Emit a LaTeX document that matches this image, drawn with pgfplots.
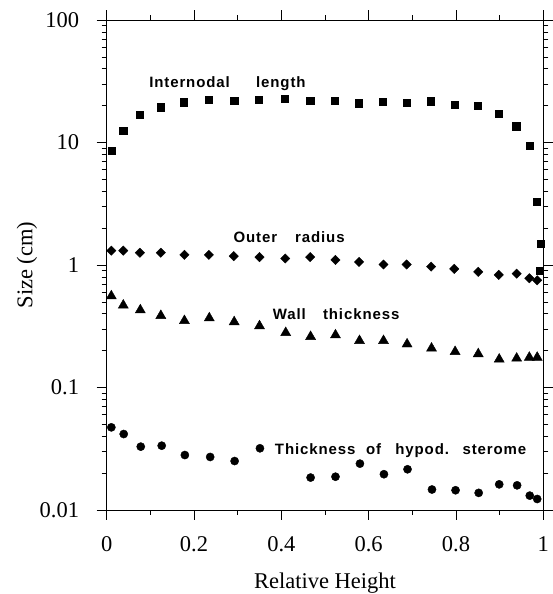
\documentclass[border=0pt]{standalone}
\usepackage{pgfplots}
\pgfplotsset{compat=1.18}
\usepackage{fontspec}
\setmainfont{Liberation Serif}
\newfontfamily\lab[LetterSpace=6]{Liberation Sans}
\begin{document}
\begin{tikzpicture}
\begin{axis}[
  scale only axis, width=436.6pt, height=490pt,
  xmin=0, xmax=1, ymode=log, ymin=0.01, ymax=100,
  axis line style={line width=0.8pt},
  tick align=outside, tick pos=both,
  major tick length=10pt, minor tick length=5pt,
  every tick/.style={line width=0.6pt, black},
  xtick={0,0.2,0.4,0.6,0.8,1}, xticklabels={0,0.2,0.4,0.6,0.8,1},
  minor xtick={0.1,0.3,0.5,0.7,0.9},
  ytick={0.01,0.1,1,10,100}, yticklabels={0.01,0.1,1,10,100},
  minor ytick={0.02,0.03,0.04,0.05,0.06,0.07,0.08,0.09,0.2,0.3,0.4,0.5,0.6,0.7,0.8,0.9,2,3,4,5,6,7,8,9,20,30,40,50,60,70,80,90},
  ticklabel style={font=\fontsize{22.5}{25}\selectfont},
  /pgf/number format/assume math mode=true,
  xticklabel style={anchor=north, inner sep=0pt, yshift=-16.7pt},
  yticklabel style={anchor=east, inner sep=0pt, xshift=-17.4pt},
  label style={font=\fontsize{22.5}{25}\selectfont},
  xlabel={Relative Height}, ylabel={Size (cm)},
  xlabel style={at={(axis description cs:0.5,-0.1612)}, anchor=base},
  ylabel style={at={(axis description cs:-0.1704,0.5)}, anchor=base},
  clip=false,
]
% Internodal length
\addplot[only marks, mark=square*, mark size=3.6pt, black] coordinates {
(0.0106,8.57) (0.038,12.4) (0.076,16.9) (0.124,19.4) (0.177,21.3) (0.233,22.5)
(0.292,22.1) (0.349,22.5) (0.408,22.9) (0.466,21.9) (0.522,21.8) (0.578,20.9)
(0.632,21.4) (0.687,21.0) (0.742,21.7) (0.797,20.2) (0.850,20.0) (0.898,17.1)
(0.938,13.6) (0.968,9.36) (0.985,3.29) (0.994,1.50) (0.991,0.90)
};
% Outer radius
\addplot[only marks, mark=square*, mark size=3.3pt, mark options={rotate=45}, black] coordinates {
(0.0106,1.31) (0.038,1.31) (0.076,1.26) (0.124,1.26) (0.178,1.21) (0.234,1.21)
(0.291,1.18) (0.350,1.16) (0.409,1.13) (0.466,1.16) (0.524,1.10) (0.578,1.06)
(0.634,1.01) (0.687,1.01) (0.743,0.97) (0.796,0.93) (0.851,0.88) (0.898,0.83)
(0.939,0.85) (0.968,0.78) (0.986,0.75)
};
% Wall thickness
\addplot[only marks, mark=triangle*, mark size=5.8pt, black] coordinates {
(0.0106,0.558) (0.038,0.469) (0.077,0.429) (0.124,0.386) (0.178,0.351) (0.235,0.369)
(0.292,0.343) (0.350,0.318) (0.410,0.280) (0.467,0.260) (0.524,0.268) (0.579,0.241)
(0.634,0.241) (0.688,0.226) (0.744,0.209) (0.798,0.196) (0.851,0.188) (0.899,0.170)
(0.939,0.173) (0.968,0.176) (0.986,0.176)
};
% Thickness of hypod. sterome
\addplot[only marks, mark=*, mark size=4.1pt, black] coordinates {
(0.0106,0.0473) (0.039,0.0417) (0.078,0.0329) (0.126,0.0335) (0.179,0.0281) (0.237,0.0271)
(0.293,0.0251) (0.351,0.0319) (0.467,0.0184) (0.524,0.0187) (0.580,0.0239) (0.635,0.0196)
(0.689,0.0215) (0.745,0.0147) (0.799,0.0145) (0.852,0.0138) (0.899,0.0162) (0.940,0.0159)
(0.969,0.0131) (0.986,0.0123)
};
\node[anchor=base west, inner sep=0pt, font=\lab\bfseries\fontsize{15}{17}\selectfont] at (axis cs:0.097,28.0) {Internodal\hspace{1.75em}length};
\node[anchor=base west, inner sep=0pt, font=\lab\bfseries\fontsize{15}{17}\selectfont] at (axis cs:0.290,1.53) {Outer\hspace{1.2em}radius};
\node[anchor=base west, inner sep=0pt, font=\lab\bfseries\fontsize{15}{17}\selectfont] at (axis cs:0.380,0.356) {Wall\hspace{1.15em}thickness};
\node[anchor=base west, inner sep=0pt, font=\lab\bfseries\fontsize{15}{17}\selectfont] at (axis cs:0.385,0.0286) {Thickness\hspace{0.7em}of\hspace{0.95em}hypod.\hspace{0.9em}sterome};
\end{axis}
\pgfresetboundingbox
\path ([xshift=-106.7pt,yshift=-84pt]current axis.south west) rectangle ([xshift=9.7pt,yshift=20pt]current axis.north east);
\end{tikzpicture}
\end{document}
